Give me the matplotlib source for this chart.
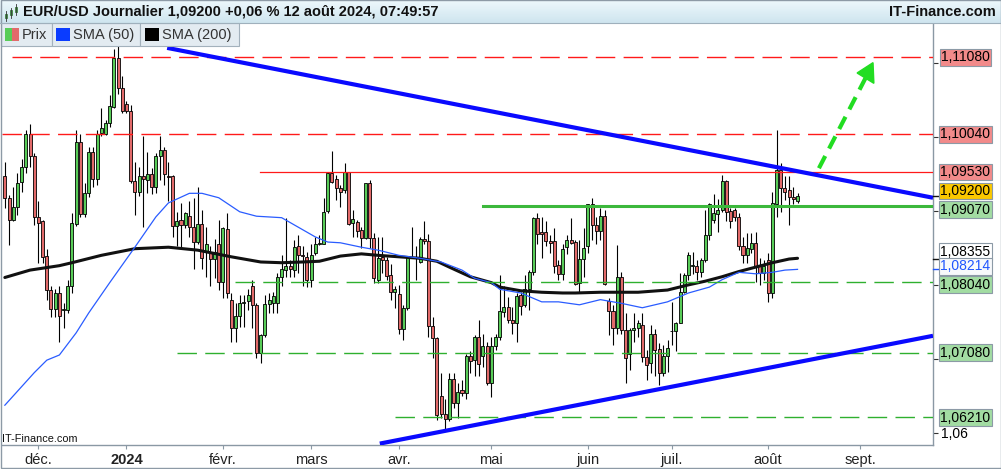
import matplotlib
matplotlib.use('Agg')
import matplotlib.pyplot as plt
import numpy as np
from matplotlib.patches import Rectangle, Polygon
from matplotlib.colors import LinearSegmentedColormap
from matplotlib.transforms import blended_transform_factory

plt.rcParams['font.family'] = ['Liberation Sans', 'DejaVu Sans']

W, H = 1001, 469

# daily candles, 21 nov 2023 -> 12 aout 2024 (one entry per weekday)
opens = [
    1.0947, 1.0917, 1.0888, 1.0906, 1.0940, 1.0960, 1.1004, 1.0975, 1.0892, 1.0887,
    1.0839, 1.0793, 1.0767, 1.0789, 1.0766, 1.0766, 1.0798, 1.0883, 1.0993, 1.0896,
    1.0924, 1.0980, 1.0944, 1.1006, 1.1004, 1.1019, 1.1041, 1.1107, 1.1066, 1.1045,
    1.1036, 1.0941, 1.0926, 1.0947, 1.0942, 1.0950, 1.0932, 1.0974, 1.0983, 1.0947,
    1.0947, 1.0880, 1.0888, 1.0881, 1.0893, 1.0879, 1.0858, 1.0882, 1.0845, 1.0844,
    1.0835, 1.0856, 1.0804, 1.0875, 1.0780, 1.0741, 1.0758, 1.0776, 1.0778, 1.0798,
    1.0773, 1.0708, 1.0732, 1.0774, 1.0776, 1.0776, 1.0810, 1.0820, 1.0826, 1.0820,
    1.0852, 1.0841, 1.0838, 1.0807, 1.0843, 1.0855, 1.0856, 1.0900, 1.0951, 1.0943,
    1.0931, 1.0928, 1.0953, 1.0884, 1.0885, 1.0874, 1.0863, 1.0938, 1.0863, 1.0807,
    1.0838, 1.0834, 1.0813, 1.0791, 1.0788, 1.0740, 1.0768, 1.0838, 1.0837, 1.0831,
    1.0862, 1.0859, 1.0744, 1.0728, 1.0650, 1.0625, 1.0618, 1.0672, 1.0640, 1.0658,
    1.0653, 1.0704, 1.0698, 1.0730, 1.0703, 1.0717, 1.0667, 1.0717, 1.0730, 1.0763,
    1.0770, 1.0752, 1.0749, 1.0786, 1.0773, 1.0795, 1.0817, 1.0890, 1.0871, 1.0871,
    1.0859, 1.0859, 1.0827, 1.0815, 1.0851, 1.0861, 1.0858, 1.0802, 1.0835, 1.0852,
    1.0909, 1.0881, 1.0873, 1.0893, 1.0778, 1.0765, 1.0741, 1.0811, 1.0739, 1.0707,
    1.0739, 1.0741, 1.0746, 1.0702, 1.0694, 1.0733, 1.0713, 1.0680, 1.0703, 1.0737,
    1.0737, 1.0749, 1.0790, 1.0813, 1.0826, 1.0826, 1.0817, 1.0834, 1.0868, 1.0888,
    1.0896, 1.0902, 1.0941, 1.0900, 1.0901, 1.0892, 1.0852, 1.0840, 1.0848, 1.0857,
    1.0825, 1.0816, 1.0834, 1.0789, 1.0910, 1.0956, 1.0931, 1.0928, 1.0919, 1.0913,
]
highs = [
    1.0967, 1.0922, 1.0933, 1.0951, 1.0971, 1.1010, 1.1018, 1.0978, 1.0913, 1.0888,
    1.0848, 1.0798, 1.0795, 1.0798, 1.0775, 1.0807, 1.0897, 1.1010, 1.1005, 1.0938,
    1.0987, 1.0987, 1.1010, 1.1039, 1.1023, 1.1057, 1.1120, 1.1135, 1.1083, 1.1049,
    1.1044, 1.0967, 1.0960, 1.1001, 1.0980, 1.0958, 1.0978, 1.1001, 1.0987, 1.0967,
    1.0949, 1.0899, 1.0911, 1.0899, 1.0913, 1.0917, 1.0933, 1.0901, 1.0879, 1.0852,
    1.0862, 1.0888, 1.0879, 1.0897, 1.0789, 1.0775, 1.0786, 1.0786, 1.0795, 1.0807,
    1.0775, 1.0734, 1.0786, 1.0789, 1.0791, 1.0816, 1.0840, 1.0890, 1.0834, 1.0861,
    1.0868, 1.0852, 1.0845, 1.0856, 1.0865, 1.0868, 1.0917, 1.0953, 1.0981, 1.0949,
    1.0935, 1.0965, 1.0953, 1.0901, 1.0888, 1.0879, 1.0938, 1.0942, 1.0870, 1.0865,
    1.0865, 1.0838, 1.0828, 1.0798, 1.0800, 1.0773, 1.0839, 1.0879, 1.0852, 1.0865,
    1.0887, 1.0869, 1.0757, 1.0729, 1.0680, 1.0645, 1.0680, 1.0680, 1.0667, 1.0671,
    1.0707, 1.0710, 1.0732, 1.0753, 1.0734, 1.0723, 1.0730, 1.0734, 1.0813, 1.0798,
    1.0784, 1.0770, 1.0789, 1.0791, 1.0813, 1.0820, 1.0892, 1.0897, 1.0892, 1.0886,
    1.0868, 1.0877, 1.0834, 1.0856, 1.0868, 1.0890, 1.0861, 1.0861, 1.0877, 1.0910,
    1.0917, 1.0892, 1.0904, 1.0901, 1.0782, 1.0773, 1.0854, 1.0818, 1.0762, 1.0741,
    1.0762, 1.0753, 1.0762, 1.0712, 1.0746, 1.0740, 1.0721, 1.0719, 1.0725, 1.0777,
    1.0750, 1.0816, 1.0816, 1.0845, 1.0845, 1.0834, 1.0836, 1.0901, 1.0911, 1.0923,
    1.0916, 1.0949, 1.0942, 1.0904, 1.0904, 1.0898, 1.0865, 1.0870, 1.0870, 1.0872,
    1.0836, 1.0834, 1.0843, 1.0926, 1.1010, 1.0965, 1.0947, 1.0947, 1.0933, 1.0924,
]
lows = [
    1.0904, 1.0854, 1.0886, 1.0895, 1.0926, 1.0951, 1.0960, 1.0881, 1.0829, 1.0830,
    1.0780, 1.0757, 1.0757, 1.0723, 1.0741, 1.0762, 1.0789, 1.0880, 1.0892, 1.0892,
    1.0919, 1.0933, 1.0935, 1.1001, 1.1003, 1.1014, 1.1039, 1.1059, 1.1033, 1.1033,
    1.0938, 1.0895, 1.0921, 1.0879, 1.0924, 1.0923, 1.0924, 1.0942, 1.0935, 1.0913,
    1.0865, 1.0852, 1.0850, 1.0877, 1.0865, 1.0822, 1.0856, 1.0822, 1.0811, 1.0798,
    1.0809, 1.0793, 1.0782, 1.0782, 1.0723, 1.0723, 1.0743, 1.0743, 1.0766, 1.0741,
    1.0701, 1.0694, 1.0730, 1.0762, 1.0762, 1.0762, 1.0798, 1.0811, 1.0811, 1.0811,
    1.0816, 1.0798, 1.0797, 1.0797, 1.0840, 1.0854, 1.0855, 1.0897, 1.0938, 1.0915,
    1.0906, 1.0924, 1.0881, 1.0865, 1.0865, 1.0850, 1.0862, 1.0850, 1.0802, 1.0802,
    1.0816, 1.0807, 1.0780, 1.0768, 1.0734, 1.0725, 1.0766, 1.0836, 1.0807, 1.0830,
    1.0856, 1.0730, 1.0701, 1.0617, 1.0619, 1.0604, 1.0615, 1.0633, 1.0619, 1.0649,
    1.0646, 1.0680, 1.0676, 1.0676, 1.0689, 1.0664, 1.0648, 1.0712, 1.0725, 1.0757,
    1.0748, 1.0734, 1.0723, 1.0759, 1.0770, 1.0766, 1.0813, 1.0855, 1.0836, 1.0852,
    1.0843, 1.0816, 1.0806, 1.0807, 1.0842, 1.0856, 1.0800, 1.0789, 1.0811, 1.0843,
    1.0861, 1.0856, 1.0861, 1.0800, 1.0732, 1.0719, 1.0734, 1.0734, 1.0667, 1.0685,
    1.0723, 1.0730, 1.0696, 1.0671, 1.0680, 1.0676, 1.0664, 1.0676, 1.0682, 1.0719,
    1.0710, 1.0748, 1.0789, 1.0807, 1.0815, 1.0807, 1.0811, 1.0831, 1.0861, 1.0884,
    1.0872, 1.0899, 1.0886, 1.0877, 1.0886, 1.0847, 1.0829, 1.0829, 1.0843, 1.0804,
    1.0800, 1.0807, 1.0777, 1.0782, 1.0892, 1.0899, 1.0915, 1.0881, 1.0910, 1.0911,
]
closes = [
    1.0917, 1.0888, 1.0906, 1.0938, 1.0959, 1.1004, 1.0974, 1.0892, 1.0884, 1.0838,
    1.0793, 1.0767, 1.0789, 1.0758, 1.0767, 1.0798, 1.0884, 1.0993, 1.0896, 1.0924,
    1.0980, 1.0944, 1.1005, 1.1013, 1.1019, 1.1042, 1.1107, 1.1066, 1.1036, 1.1036,
    1.0941, 1.0926, 1.0947, 1.0943, 1.0950, 1.0932, 1.0975, 1.0983, 1.0950, 1.0946,
    1.0880, 1.0887, 1.0881, 1.0898, 1.0879, 1.0858, 1.0882, 1.0836, 1.0855, 1.0835,
    1.0844, 1.0804, 1.0877, 1.0789, 1.0741, 1.0758, 1.0776, 1.0777, 1.0786, 1.0773,
    1.0708, 1.0732, 1.0774, 1.0780, 1.0785, 1.0810, 1.0821, 1.0826, 1.0822, 1.0851,
    1.0840, 1.0839, 1.0807, 1.0840, 1.0855, 1.0857, 1.0899, 1.0951, 1.0939, 1.0931,
    1.0926, 1.0953, 1.0883, 1.0889, 1.0873, 1.0863, 1.0938, 1.0863, 1.0809, 1.0837,
    1.0834, 1.0812, 1.0791, 1.0794, 1.0740, 1.0768, 1.0838, 1.0837, 1.0836, 1.0862,
    1.0860, 1.0744, 1.0728, 1.0624, 1.0625, 1.0618, 1.0672, 1.0640, 1.0655, 1.0653,
    1.0704, 1.0697, 1.0730, 1.0693, 1.0717, 1.0667, 1.0717, 1.0730, 1.0764, 1.0770,
    1.0752, 1.0749, 1.0785, 1.0771, 1.0795, 1.0817, 1.0890, 1.0869, 1.0869, 1.0860,
    1.0857, 1.0826, 1.0815, 1.0848, 1.0861, 1.0857, 1.0801, 1.0835, 1.0850, 1.0910,
    1.0881, 1.0873, 1.0893, 1.0801, 1.0765, 1.0741, 1.0811, 1.0739, 1.0701, 1.0739,
    1.0741, 1.0748, 1.0702, 1.0691, 1.0733, 1.0712, 1.0681, 1.0704, 1.0714, 1.0738,
    1.0749, 1.0790, 1.0813, 1.0840, 1.0826, 1.0817, 1.0834, 1.0868, 1.0910, 1.0897,
    1.0902, 1.0941, 1.0899, 1.0886, 1.0892, 1.0852, 1.0840, 1.0850, 1.0857, 1.0825,
    1.0816, 1.0825, 1.0789, 1.0911, 1.0956, 1.0931, 1.0926, 1.0919, 1.0916, 1.0920,
]

# moyennes mobiles (index du jour, valeur)
sma50_idx = [0, 7, 10, 13, 17, 20, 25, 31, 36, 39, 44, 47, 51, 56, 60, 66, 70, 74, 77, 80,
             85, 89, 94, 99, 104, 109, 112, 116, 118, 123, 128, 132, 137, 142, 147, 152, 158,
             163, 168, 171, 175, 179, 183, 186, 189]
sma50_val = [1.0637, 1.0681, 1.0698, 1.0705, 1.0735, 1.0762, 1.0803, 1.0851, 1.0892, 1.0911,
             1.0924, 1.0924, 1.0918, 1.0899, 1.0893, 1.0891, 1.0878, 1.0865, 1.0858, 1.0857,
             1.0851, 1.0847, 1.0840, 1.0836, 1.0831, 1.0820, 1.0809, 1.0803, 1.0794, 1.0789,
             1.0777, 1.0777, 1.0773, 1.0780, 1.0775, 1.0769, 1.0777, 1.0789, 1.0797, 1.0807,
             1.0817, 1.0815, 1.0817, 1.0820, 1.0821]
sma200_idx = [0, 6, 13, 16, 23, 31, 39, 46, 54, 61, 66, 71, 75, 80, 85, 89, 94, 99, 103,
              106, 111, 116, 118, 123, 128, 133, 136, 142, 147, 151, 158, 163, 167, 171,
              175, 179, 183, 187, 189]
sma200_val = [1.0810, 1.0820, 1.0826, 1.0830, 1.0840, 1.0849, 1.0851, 1.0847, 1.0838, 1.0831,
              1.0830, 1.0831, 1.0832, 1.0839, 1.0842, 1.0840, 1.0838, 1.0836, 1.0832,
              1.0824, 1.0811, 1.0803, 1.0797, 1.0792, 1.0790, 1.0789, 1.0789, 1.0790, 1.0790,
              1.0790, 1.0793, 1.0800, 1.0805, 1.0811, 1.0818, 1.0824, 1.0830, 1.0835, 1.0836]

month_idx = [8, 29, 52, 73, 94, 116, 139, 159, 182, 204]
month_lbl = ['déc.', '2024', 'févr.', 'mars', 'avr.', 'mai', 'juin', 'juil.', 'août', 'sept.']

# niveaux traces (prix, debut en index)
red_dash = [(1.1108, 1.7), (1.1004, -0.7)]
red_solid = [(1.0953, 60.8)]
green_solid = [(1.0907, 114.0)]
green_dash = [(1.0804, 54.9), (1.0708, 41.0), (1.0621, 93.0)]

# droites de tendance
resist_x, resist_y = [38.7, 221.3], [1.1121, 1.0918]
support_x, support_y = [89.4, 221.3], [1.0585, 1.0731]

# etiquettes de l'axe de droite
tag_txt = ['1,11080', '1,10040', '1,09530', '1,09200', '1,09070', '1,08355', '1,08214', '1,08040', '1,07080', '1,06210']
tag_pos = [1.1108, 1.1004, 1.0953, 1.0927, 1.0902, 1.0845, 1.0825, 1.0800, 1.0708, 1.0620]

RED_F = '#f28a8a'
GRN_F = '#a2dca2'
GOLD_F = '#fbc800'
tag_face = [RED_F, RED_F, RED_F, GOLD_F, GRN_F, 'white', '#f7f9fb', GRN_F, GRN_F, GRN_F]
tag_col = ['black'] * 6 + ['#1f55ff'] + ['black'] * 3

XMIN, XMAX = -0.68, 221.3

fig = plt.figure(figsize=(W / 100, H / 100), dpi=100)
ax = fig.add_axes([2 / W, 1 - 445 / H, 931 / W, 422 / H])
ax.set_xlim(XMIN, XMAX)
ax.set_ylim(1.05831, 1.11547)

# bougies
o = np.array(opens); c = np.array(closes)
x = np.arange(len(c))
up = c >= o
ax.vlines(x, lows, highs, color='black', lw=0.8, zorder=2)
ax.bar(x, np.maximum(np.abs(c - o), 0.00004), bottom=np.minimum(o, c), width=0.72,
       color=np.where(up, '#58cc58', '#e26a6a'), edgecolor='black', linewidth=0.6, zorder=3)

# moyennes mobiles
ax.plot(sma200_idx, sma200_val, color='#111111', lw=2.2, zorder=4, solid_capstyle='round')
ax.plot(sma50_idx, sma50_val, color='#2a5cff', lw=0.9, zorder=4)

# niveaux horizontaux
for y, x0 in red_dash:
    ax.plot([x0, XMAX], [y, y], color='#ff1a1a', lw=1.0, ls=(0, (14, 6)), zorder=5)
for y, x0 in red_solid:
    ax.plot([x0, XMAX], [y, y], color='#ff1a1a', lw=0.9, zorder=5)
for y, x0 in green_solid:
    ax.plot([x0, XMAX], [y, y], color='#3cb83c', lw=2.2, zorder=5)
for y, x0 in green_dash:
    ax.plot([x0, XMAX], [y, y], color='#2fb02f', lw=1.0, ls=(0, (14, 6)), zorder=5)

# tendances
ax.plot(resist_x, resist_y, color='#0a0aff', lw=3.0, zorder=6, solid_capstyle='butt')
ax.plot(support_x, support_y, color='#0a0aff', lw=3.0, zorder=6, solid_capstyle='butt')

# fleche verte
ax.plot([194.1, 205.2], [1.0958, 1.1080], color='#22dd22', lw=3.0, ls=(0, (3.3, 2.0)), zorder=7)
ax.add_patch(Polygon([(207.0, 1.1101), (203.2, 1.1087), (207.2, 1.1073)], closed=True,
                     color='#22dd22', zorder=7))

# axes
for s in ['top', 'left']:
    ax.spines[s].set_visible(False)
for s in ['right', 'bottom']:
    ax.spines[s].set_color('#8a98a4')
    ax.spines[s].set_linewidth(1.0)

ax.set_xticks(month_idx)
ax.set_xticklabels(month_lbl)
for lbl in ax.get_xticklabels():
    if lbl.get_text() == '2024':
        lbl.set_fontweight('bold')
ax.tick_params(axis='x', length=3, width=0.8, color='#8a98a4', pad=2.5, labelsize=10.5, labelcolor='#222222')

# graduations de droite (seul 1,06 reste visible, les autres sont sous les etiquettes)
ax.yaxis.tick_right()
ax.set_yticks([1.06, 1.07, 1.08, 1.09, 1.10, 1.11])
ax.set_yticklabels(['1,06', '', '', '', '', ''])
ax.tick_params(axis='y', length=3.5, width=0.8, color='#333333', pad=2.5, labelsize=10)

trans = blended_transform_factory(ax.transAxes, ax.transData)
for k, (t, yp) in enumerate(zip(tag_txt, tag_pos)):
    ax.text(1.0349, yp, t, transform=trans, ha='center', va='center', fontsize=10,
            color=tag_col[k], clip_on=False, zorder=20 + k,
            bbox=dict(boxstyle='square,pad=0.1', fc=tag_face[k], ec='#8c9aa6', lw=0.8))
for yv, col in [(1.0920, '#111111'), (1.08355, '#111111'), (1.08214, '#1f55ff')]:
    ax.plot([1.0, 1.006], [yv, yv], transform=trans, color=col, lw=1.0, clip_on=False, zorder=19)

# calque en pixels : bandeau, legende, bordure
ov = fig.add_axes([0, 0, 1, 1], zorder=10)
grad = np.linspace(0, 1, 23).reshape(-1, 1)
cmap = LinearSegmentedColormap.from_list('hdr', ['#edf8fc', '#cfe5ef'])
ov.imshow(grad, extent=[0, W, 23, 0], cmap=cmap, aspect='auto', interpolation='bilinear')
ov.set_xlim(0, W)
ov.set_ylim(H, 0)
ov.axis('off')
ov.plot([0, W], [23, 23], color='#9fb0bc', lw=0.8)

ov.text(23, 12, 'EUR/USD Journalier 1,09200 +0,06 % 12 août 2024, 07:49:57', fontsize=10.5,
        fontweight='bold', ha='left', va='center', color='#111111')
ov.text(996, 12, 'IT-Finance.com', fontsize=10.5, fontweight='bold', ha='right', va='center', color='#111111')

# petite icone bougies
for cx, yb, yt in [(6, 18, 14), (11, 15, 10.5), (16, 12, 7)]:
    ov.plot([cx, cx], [yb + 3, yt - 2.5], color='#333333', lw=0.6)
    ov.add_patch(Rectangle((cx - 1.3, yt), 2.6, yb - yt, fc='#58cc58', ec='#2a6a2a', lw=0.5))

for x0, x1 in [(1, 52), (52, 140), (140, 239)]:
    ov.add_patch(Rectangle((x0, 23), x1 - x0, 23, fc='#e3ebf1', ec='#a3b1bc', lw=0.8))
ov.add_patch(Rectangle((5, 28), 7, 13.5, fc='#58cc58', ec='none'))
ov.add_patch(Rectangle((12, 28), 7, 13.5, fc='#e26a6a', ec='none'))
ov.add_patch(Rectangle((56, 28), 14, 13.5, fc='#0a3cff', ec='none'))
ov.add_patch(Rectangle((145, 28), 14, 13.5, fc='black', ec='none'))
ov.text(22, 35, 'Prix', fontsize=10.5, va='center', ha='left', color='#333333')
ov.text(73, 35, 'SMA (50)', fontsize=10.5, va='center', ha='left', color='#333333')
ov.text(162, 35, 'SMA (200)', fontsize=10.5, va='center', ha='left', color='#333333')

ov.text(2, 439.5, 'IT-Finance.com', fontsize=7.8, va='center', ha='left', color='#111111')
ov.add_patch(Rectangle((0.5, 0.5), W - 1, H - 1, fill=False, ec='#8d9aa6', lw=1.0))

fig.savefig('out.png', dpi=100)
